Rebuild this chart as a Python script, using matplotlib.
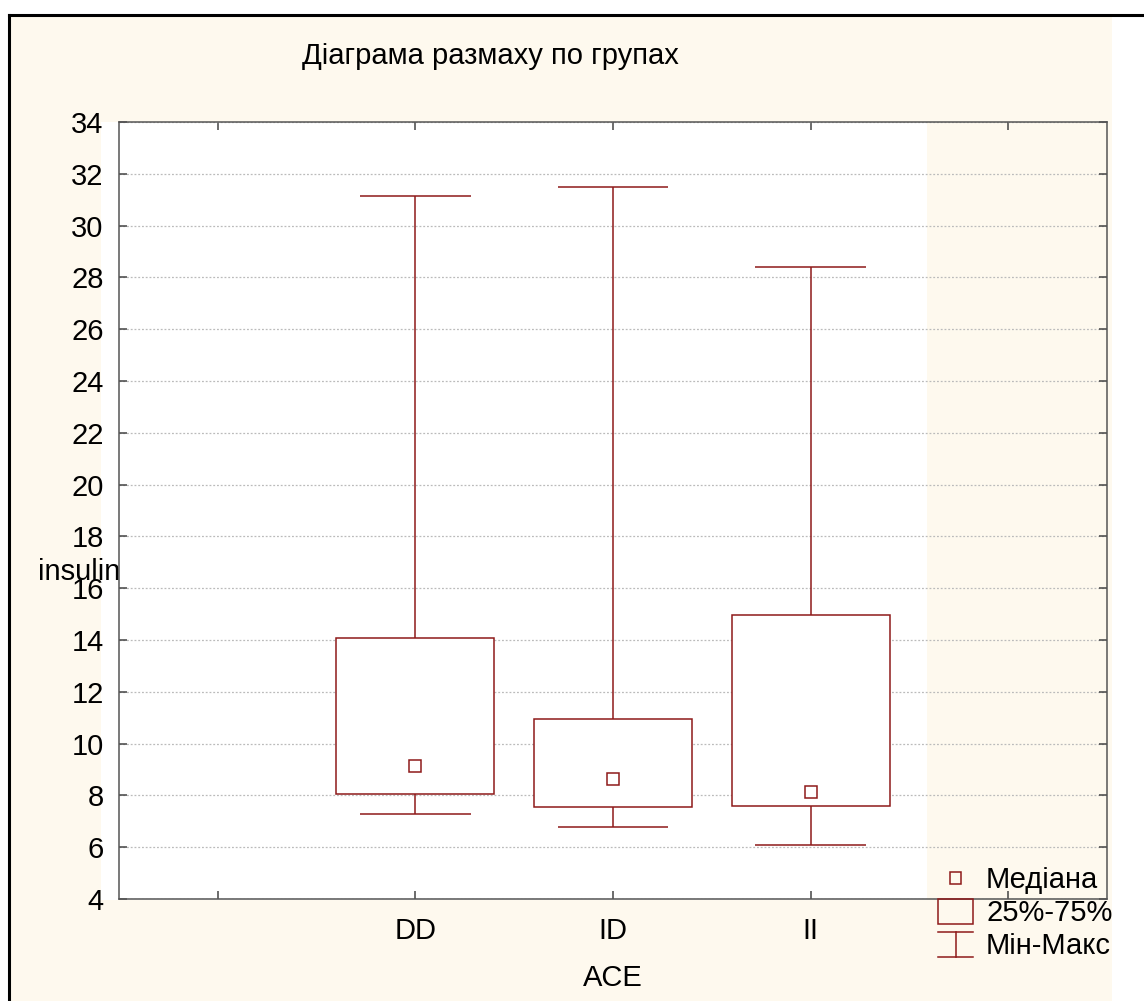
import matplotlib
matplotlib.use('Agg')
import matplotlib.pyplot as plt
from matplotlib.patches import Rectangle
from matplotlib.lines import Line2D

# data
groups = ['DD', 'ID', 'II']
mins = [7.28, 6.78, 6.1]
q1 = [8.05, 7.55, 7.59]
medians = [9.13, 8.63, 8.13]
q3 = [14.08, 10.95, 14.97]
maxs = [31.15, 31.48, 28.42]
tick_labels = ['', 'DD', 'ID', 'II', '']

RED = '#8E1A1A'
CREAM = '#FEF9EE'
W, H = 1144, 1001
plt.rcParams['font.family'] = ['Liberation Sans', 'DejaVu Sans']

fig = plt.figure(figsize=(W / 100, H / 100), dpi=100, facecolor='white')


def fx(px):
    return px / W


def fy(py):
    return 1 - py / H


# background panels
fig.add_artist(Rectangle((fx(9), 0), fx(1112) - fx(9), fy(15), transform=fig.transFigure,
                         facecolor=CREAM, edgecolor='none', zorder=0))
fig.add_artist(Rectangle((fx(101), fy(900)), fx(927) - fx(101), fy(122) - fy(900),
                         transform=fig.transFigure, facecolor='white', edgecolor='none', zorder=0))
fig.add_artist(Line2D([fx(9), 1], [fy(15), fy(15)], transform=fig.transFigure, color='black', lw=2.2))
fig.add_artist(Line2D([fx(9), fx(9)], [0, fy(15)], transform=fig.transFigure, color='black', lw=2.2))

ax = fig.add_axes([fx(119), fy(899), fx(1107) - fx(119), fy(122) - fy(899)])
ax.set_facecolor('none')

x = [1, 2, 3]
ax.vlines(x, mins, q1, color=RED, lw=1.1, zorder=3)
ax.vlines(x, q3, maxs, color=RED, lw=1.1, zorder=3)
ax.hlines(mins, [i - 0.28 for i in x], [i + 0.28 for i in x], color=RED, lw=1.1, zorder=3)
ax.hlines(maxs, [i - 0.28 for i in x], [i + 0.28 for i in x], color=RED, lw=1.1, zorder=3)
ax.bar(x, [b - a for a, b in zip(q1, q3)], bottom=q1, width=0.8,
       facecolor='white', edgecolor=RED, lw=1.1, zorder=3)
ax.plot(x, medians, 's', ms=8, mfc='none', mec=RED, mew=1.1, zorder=4)

ax.set_xlim(-0.5, 4.5)
ax.set_ylim(4, 34)
ax.set_yticks(range(4, 35, 2))
ax.set_xticks(range(5))
ax.set_xticklabels(tick_labels)
ax.tick_params(axis='both', direction='in', top=True, right=True, length=6,
               width=1.1, color='#444444', labelsize=21)
ax.tick_params(axis='x', pad=13)
ax.tick_params(axis='y', pad=11)
ax.yaxis.grid(True, linestyle=(0, (1.5, 1.5)), color='#BBBBBB', lw=0.9, zorder=1)
ax.set_axisbelow(True)
for s in ax.spines.values():
    s.set_color('#555555')
    s.set_linewidth(1.1)

ax.set_xlabel('ACE', fontsize=21, labelpad=14)
ax.set_ylabel('insulin', fontsize=21, rotation=0, ha='right', va='center')
ax.yaxis.set_label_coords(0.001, 0.421)

fig.text(fx(490), fy(56), 'Діаграма размаху по групах', fontsize=21, ha='center', va='center')

# legend drawn by hand
fig.add_artist(Rectangle((fx(950), fy(884)), fx(961) - fx(950), fy(872) - fy(884),
                         transform=fig.transFigure, facecolor='none', edgecolor=RED, lw=1.1, zorder=5))
fig.add_artist(Rectangle((fx(938), fy(924)), fx(973) - fx(938), fy(899) - fy(924),
                         transform=fig.transFigure, facecolor='none', edgecolor=RED, lw=1.1, zorder=5))
for yy in (932, 957):
    fig.add_artist(Line2D([fx(938), fx(973)], [fy(yy), fy(yy)], transform=fig.transFigure,
                          color=RED, lw=1.1, zorder=5))
fig.add_artist(Line2D([fx(955.5), fx(955.5)], [fy(932), fy(957)], transform=fig.transFigure,
                      color=RED, lw=1.1, zorder=5))
for label, yy in [('Медіана', 880), ('25%-75%', 913), ('Мін-Макс', 946)]:
    fig.text(fx(986), fy(yy), label, fontsize=21, ha='left', va='center', zorder=5)

plt.savefig('out.png', dpi=100, facecolor='white')
